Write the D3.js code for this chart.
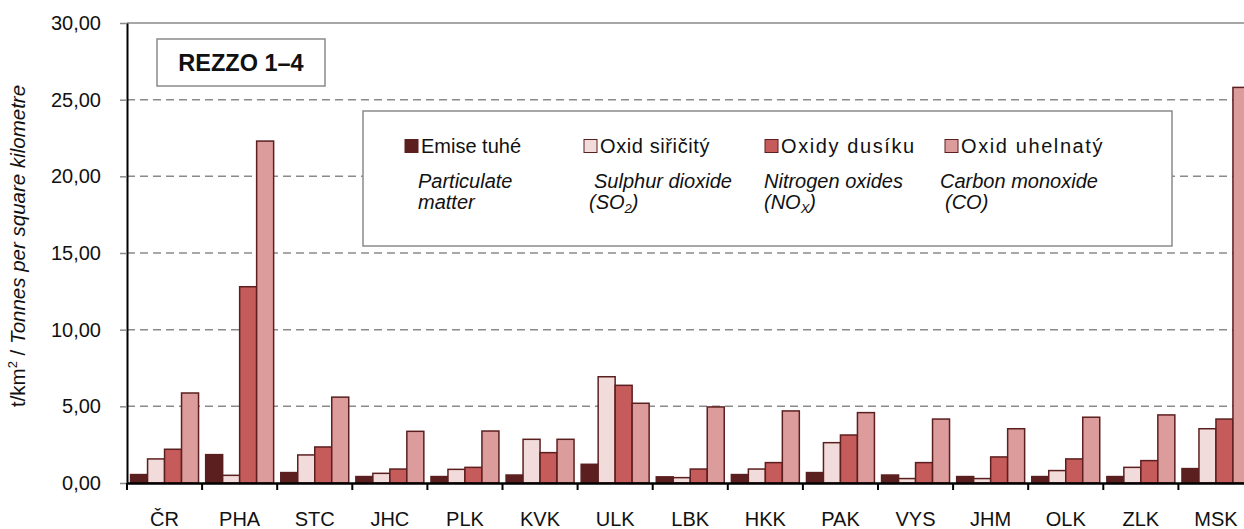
<!DOCTYPE html>
<html>
<head>
<meta charset="utf-8">
<script src="https://cdn.jsdelivr.net/npm/d3@7"></script>
<style>
  body { margin: 0; background: #fff; }
  svg { display: block; font-family: "Liberation Sans", Arial, sans-serif; }
</style>
</head>
<body>
<svg id="chart"></svg>
<script>
// regions (kraje) + Czech Republic
const categories = ["ČR", "PHA", "STC", "JHC", "PLK", "KVK", "ULK", "LBK", "HKK", "PAK", "VYS", "JHM", "OLK", "ZLK", "MSK"];

// t/km2
const emiseTuhe    = [0.55, 1.85, 0.68, 0.42, 0.42, 0.52, 1.22, 0.40, 0.55, 0.68, 0.52, 0.42, 0.42, 0.42, 0.94];
const oxidSiricity = [1.57, 0.50, 1.83, 0.63, 0.89, 2.85, 6.93, 0.35, 0.91, 2.63, 0.29, 0.29, 0.81, 1.02, 3.54];
const oxidyDusiku  = [2.20, 12.80, 2.35, 0.91, 1.02, 1.98, 6.37, 0.91, 1.33, 3.13, 1.33, 1.70, 1.57, 1.46, 4.17];
const oxidUhelnaty = [5.87, 22.30, 5.60, 3.37, 3.39, 2.85, 5.20, 4.96, 4.70, 4.59, 4.17, 3.54, 4.29, 4.44, 25.80];

const seriesNames = ["Emise tuhé", "Oxid siřičitý", "Oxidy dusíku", "Oxid uhelnatý"];
const seriesColors = ["#5c1f1f", "#f2dbdb", "#c55b5b", "#dd9c9c"];
const yTicks = [0, 5, 10, 15, 20, 25, 30];

const seriesValues = [emiseTuhe, oxidSiricity, oxidyDusiku, oxidUhelnaty];

const width = 1244;
const height = 529;
const left = 127;
const band = 75.1;

const svg = d3.select("#chart").attr("width", width).attr("height", height);

const x0 = d3.scaleBand()
  .domain(categories)
  .range([left, left + band * categories.length])
  .padding(0);

const x1 = d3.scaleBand()
  .domain(d3.range(seriesNames.length))
  .range([0, x0.bandwidth()])
  .paddingInner(0)
  .paddingOuter(0.21);

const y = d3.scaleLinear().domain([0, 30]).range([483, 23]);

// gridlines
svg.append("g")
  .selectAll("line")
  .data(yTicks.filter(d => d > 0))
  .enter()
  .append("line")
  .attr("x1", left)
  .attr("x2", width)
  .attr("y1", d => y(d))
  .attr("y2", d => y(d))
  .attr("stroke", "#8a8a8a")
  .attr("stroke-width", 1.5)
  .attr("stroke-dasharray", d => (d === 30 ? null : "8,5"));

// bars
const groups = svg.append("g")
  .selectAll("g")
  .data(categories)
  .enter()
  .append("g")
  .attr("transform", d => `translate(${x0(d)},0)`);

groups.selectAll("rect")
  .data((c, ci) => seriesValues.map((vals, si) => ({ si, v: vals[ci] })))
  .enter()
  .append("rect")
  .attr("x", d => x1(d.si))
  .attr("y", d => y(d.v))
  .attr("width", x1.bandwidth())
  .attr("height", d => y(0) - y(d.v))
  .attr("fill", d => seriesColors[d.si])
  .attr("stroke", "#5c1f1f")
  .attr("stroke-width", 1.5);

// y axis
const yAxis = svg.append("g")
  .attr("transform", `translate(${left},0)`)
  .call(d3.axisLeft(y)
    .tickValues(yTicks)
    .tickSize(7)
    .tickSizeOuter(0)
    .tickPadding(19)
    .tickFormat(d => d.toFixed(2).replace(".", ",")));
yAxis.select(".domain").attr("stroke", "#000").attr("stroke-width", 2);
yAxis.selectAll(".tick line").attr("stroke", "#8a8a8a").attr("stroke-width", 1.5);
yAxis.selectAll(".tick text")
  .attr("font-size", 20)
  .attr("fill", "#111")
  .attr("font-family", "Liberation Sans, Arial, sans-serif");

// x axis
const xAxis = svg.append("g")
  .attr("transform", `translate(0,${y(0)})`)
  .call(d3.axisBottom(x0).tickSize(0).tickPadding(29));
xAxis.select(".domain").attr("stroke", "#000").attr("stroke-width", 2.5);
xAxis.selectAll(".tick text")
  .attr("font-size", 20)
  .attr("fill", "#111")
  .attr("font-family", "Liberation Sans, Arial, sans-serif");

svg.append("g")
  .selectAll("line")
  .data(categories)
  .enter()
  .append("line")
  .attr("x1", d => x0(d))
  .attr("x2", d => x0(d))
  .attr("y1", y(0))
  .attr("y2", y(0) + 7)
  .attr("stroke", "#000")
  .attr("stroke-width", 2);

// y label
const yLabel = svg.append("text")
  .attr("transform", "translate(25,246) rotate(-90)")
  .attr("text-anchor", "middle")
  .attr("font-size", 20.5)
  .attr("fill", "#111");
yLabel.append("tspan").text("t/km");
yLabel.append("tspan").attr("font-size", 13).attr("dy", -8).text("2");
yLabel.append("tspan").attr("dy", 8).text(" / ");
yLabel.append("tspan").attr("font-style", "italic").text("Tonnes per square kilometre");

// REZZO box
svg.append("rect")
  .attr("x", 157).attr("y", 39)
  .attr("width", 168).attr("height", 47)
  .attr("fill", "#fff")
  .attr("stroke", "#8a8a8a")
  .attr("stroke-width", 1.5);
svg.append("text")
  .attr("x", 241).attr("y", 63)
  .attr("text-anchor", "middle")
  .attr("dominant-baseline", "central")
  .attr("font-size", 23.5)
  .attr("font-weight", "bold")
  .attr("fill", "#111")
  .text("REZZO 1–4");

// legend
svg.append("rect")
  .attr("x", 363).attr("y", 111)
  .attr("width", 809).attr("height", 135)
  .attr("fill", "#fff")
  .attr("stroke", "#8a8a8a")
  .attr("stroke-width", 1.5);

const legendX = [405, 584, 765, 945];
const legendSpacing = [0, 0.6, 1.6, 1.6];

const legend = svg.append("g")
  .selectAll("g")
  .data(seriesNames)
  .enter()
  .append("g")
  .attr("transform", (d, i) => `translate(${legendX[i]},146)`);

legend.append("rect")
  .attr("x", 0).attr("y", -6.5)
  .attr("width", 13).attr("height", 13)
  .attr("fill", (d, i) => seriesColors[i])
  .attr("stroke", "#5c1f1f")
  .attr("stroke-width", 1);

legend.append("text")
  .attr("x", 16)
  .attr("y", 7)
  .attr("font-size", 20)
  .attr("letter-spacing", (d, i) => legendSpacing[i])
  .attr("fill", "#111")
  .text(d => d);

// english names, italic, two lines each
const enX = [418, 589, 764, 940];
const en = svg.append("g")
  .attr("font-size", 20)
  .attr("font-style", "italic")
  .attr("fill", "#111");

en.append("text").attr("x", enX[0]).attr("y", 188).text("Particulate");
en.append("text").attr("x", enX[0]).attr("y", 209).text("matter");

en.append("text").attr("x", enX[1] + 5).attr("y", 188).text("Sulphur dioxide");
const so2 = en.append("text").attr("x", enX[1]).attr("y", 209);
so2.append("tspan").text("(SO");
so2.append("tspan").attr("font-size", 13).attr("dy", 4).text("2");
so2.append("tspan").attr("dy", -4).text(")");

en.append("text").attr("x", enX[2]).attr("y", 188).text("Nitrogen oxides");
const nox = en.append("text").attr("x", enX[2]).attr("y", 209);
nox.append("tspan").text("(NO");
nox.append("tspan").attr("font-size", 13).attr("dy", 4).text("X");
nox.append("tspan").attr("dy", -4).text(")");

en.append("text").attr("x", enX[3]).attr("y", 188).text("Carbon monoxide");
en.append("text").attr("x", enX[3] + 5).attr("y", 209).text("(CO)");
</script>
</body>
</html>
